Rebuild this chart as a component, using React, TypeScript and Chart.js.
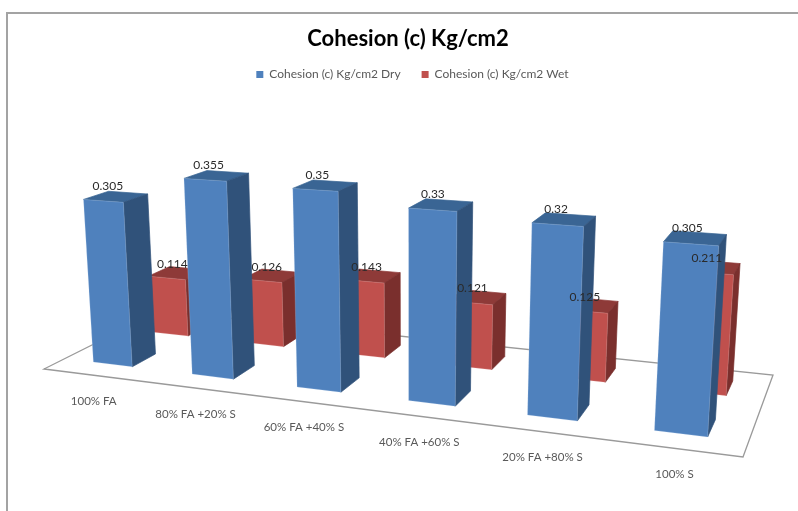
import React, { useEffect, useRef } from "react";
import { Chart, registerables } from "chart.js";

Chart.register(...registerables);

const categories = ["100% FA", "80% FA +20% S", "60% FA +40% S", "40% FA +60% S", "20% FA +80% S", "100% S"];
const dryValues = [0.305, 0.355, 0.35, 0.33, 0.32, 0.305];
const wetValues = [0.114, 0.126, 0.143, 0.121, 0.125, 0.211];
const dryName = "Cohesion (c) Kg/cm2 Dry";
const wetName = "Cohesion (c) Kg/cm2 Wet";
const chartTitle = "Cohesion (c) Kg/cm2";

// Perspective camera: unit floor -> picture, plus the vertical vanishing point
const cam = { a: 567.9, b: 139.83, c: 44, d: 7.36, e: -11.68, f: 369, g: -0.17645, h: 0.14893, k: -0.0404, vx: 410, vy: 5558 };
const project = (X: number, Y: number, Z: number): [number, number] => {
  const w = cam.g * X + cam.h * Y + 1 + cam.k * Z;
  return [
    (cam.a * X + cam.b * Y + cam.c + cam.k * cam.vx * Z) / w,
    (cam.d * X + cam.e * Y + cam.f + cam.k * cam.vy * Z) / w,
  ];
};
const depthBands = [
  [0.16, 0.36],
  [0.66, 0.86],
];
const faceColors = [
  { front: "#4f81bd", top: "#3a6594", side: "#30527a", edge: "rgba(200,220,245,0.3)", dx: -8, dy: -10.5 },
  { front: "#c0504d", top: "#8e3a38", side: "#7a2f2d", edge: "rgba(245,200,200,0.3)", dx: -5, dy: -8.5 },
];

const poly = (ctx: CanvasRenderingContext2D, pts: [number, number][], fill: string, edge: string) => {
  ctx.beginPath();
  pts.forEach((p, i) => (i ? ctx.lineTo(p[0], p[1]) : ctx.moveTo(p[0], p[1])));
  ctx.closePath();
  ctx.fillStyle = fill;
  ctx.fill();
  ctx.strokeStyle = edge;
  ctx.lineWidth = 0.7;
  ctx.stroke();
};

const scene3d = {
  id: "scene3d",
  afterLayout(chart: any) {
    // the legend sits slightly right of the title in the reference
    chart.legend.left += 9;
  },
  beforeDraw(chart: any) {
    const { ctx } = chart;
    ctx.save();
    ctx.strokeStyle = "#a3a3a3";
    ctx.lineWidth = 2;
    ctx.beginPath();
    ctx.moveTo(7, 511);
    ctx.lineTo(7, 13);
    ctx.lineTo(798, 13);
    ctx.stroke();
    ctx.restore();
  },
  beforeDatasetDraw() {
    return false;
  },
  afterDatasetsDraw(chart: any) {
    const { ctx, chartArea: area } = chart;
    ctx.save();
    // floor
    ctx.beginPath();
    [project(0, 0, 0), project(1, 0, 0), project(1, 1, 0), project(0, 1, 0)].forEach((p, i) =>
      i ? ctx.lineTo(p[0], p[1]) : ctx.moveTo(p[0], p[1])
    );
    ctx.closePath();
    ctx.fillStyle = "#ffffff";
    ctx.fill();
    ctx.strokeStyle = "#9a9a9a";
    ctx.lineWidth = 1.3;
    ctx.stroke();

    const labels: { text: string; x: number; y: number }[] = [];
    [1, 0].forEach((ds) => {
      const meta = chart.getDatasetMeta(ds);
      const [Y0, Y1] = depthBands[ds];
      const col = faceColors[ds];
      meta.data.forEach((el: any, i: number) => {
        const X0 = (el.x - el.width / 2 - area.left) / area.width;
        const X1 = (el.x + el.width / 2 - area.left) / area.width;
        const Z = (el.base - el.y) / area.height;
        poly(ctx, [project(X0, Y0, Z), project(X1, Y0, Z), project(X1, Y1, Z), project(X0, Y1, Z)], col.top, col.top);
        poly(ctx, [project(X1, Y0, 0), project(X1, Y1, 0), project(X1, Y1, Z), project(X1, Y0, Z)], col.side, col.side);
        poly(ctx, [project(X0, Y0, 0), project(X1, Y0, 0), project(X1, Y0, Z), project(X0, Y0, Z)], col.front, col.edge);
        const top = project((X0 + X1) / 2, (Y0 + Y1) / 2, Z);
        labels.push({ text: String(chart.data.datasets[ds].data[i]), x: top[0] + col.dx, y: top[1] + col.dy });
      });
    });

    ctx.textAlign = "center";
    ctx.textBaseline = "middle";
    ctx.font = "12px Lato";
    ctx.fillStyle = "#2a2a2a";
    labels.forEach((l) => ctx.fillText(l.text, l.x, l.y));

    // category labels along the front edge of the floor
    ctx.font = "11.5px Lato";
    ctx.fillStyle = "#595959";
    const xs = chart.scales.x;
    chart.data.labels.forEach((t: string, i: number) => {
      const p = project((xs.getPixelForValue(i) - area.left) / area.width, 0, 0);
      ctx.fillText(t, p[0] + 1, p[1] + 26);
    });
    ctx.restore();
  },
};

export default function App() {
  const ref = useRef<HTMLCanvasElement>(null);
  useEffect(() => {
    const chart = new Chart(ref.current as HTMLCanvasElement, {
      type: "bar",
      data: {
        labels: categories,
        datasets: [
          { label: dryName, data: dryValues, backgroundColor: "#4f81bd", borderColor: "#4f81bd" },
          { label: wetName, data: wetValues, backgroundColor: "#c0504d", borderColor: "#c0504d" },
        ],
      },
      options: {
        responsive: false,
        animation: false,
        events: [],
        layout: { padding: { left: 18 } },
        datasets: { bar: { grouped: false, barPercentage: 0.4, categoryPercentage: 1 } },
        scales: {
          x: { display: false },
          y: { display: false, min: 0, max: 0.4 },
        },
        plugins: {
          tooltip: { enabled: false },
          title: {
            display: true,
            text: chartTitle,
            color: "#000000",
            font: { family: "Lato", size: 22, weight: "bold" },
            padding: { top: 26, bottom: -5 },
          },
          legend: {
            display: true,
            position: "top",
            labels: {
              boxWidth: 7,
              boxHeight: 7,
              padding: 21,
              color: "#595959",
              font: { family: "Lato", size: 12 },
            },
          },
        },
      },
      plugins: [scene3d],
    } as any);
    return () => chart.destroy();
  }, []);
  return (
    <div style={{ position: "absolute", left: 0, top: 0, width: 798, height: 511, background: "#fff" }}>
      <canvas ref={ref} width={798} height={511} style={{ display: "block", filter: "blur(0.4px)" }} />
    </div>
  );
}
